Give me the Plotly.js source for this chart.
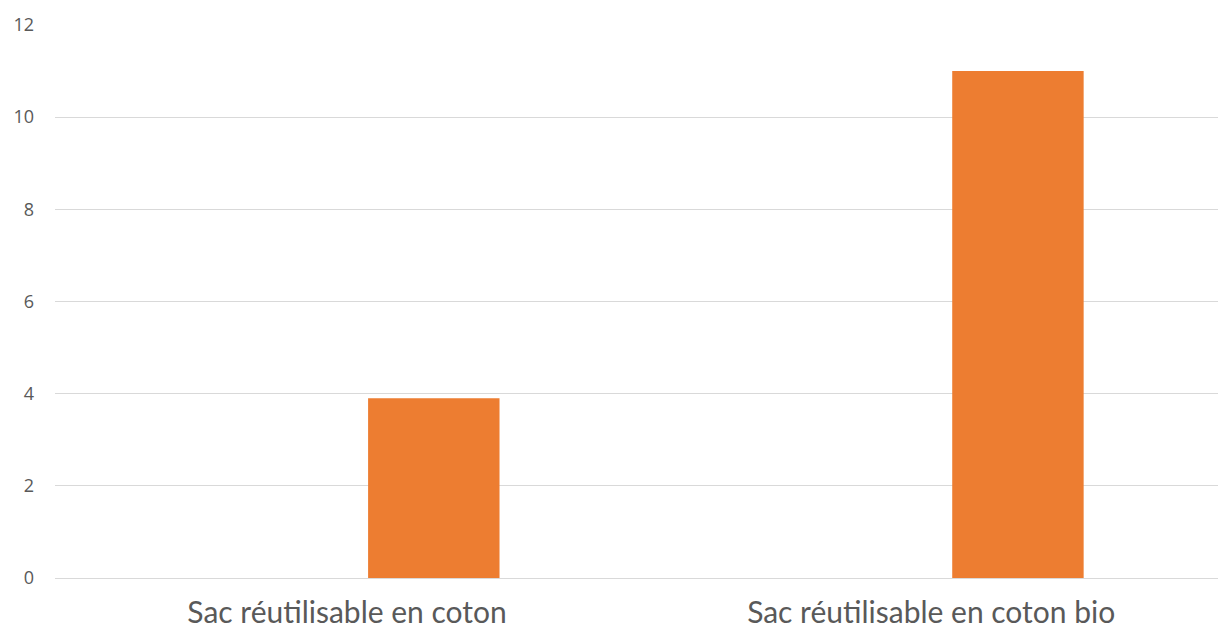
<!DOCTYPE html>
<html>
<head>
<meta charset="utf-8">
<script src="https://cdn.plot.ly/plotly-3.0.1.min.js"></script>
<style>html,body{margin:0;padding:0;background:#fff;}#chart{width:1218px;height:632px;}</style>
</head>
<body>
<div id="chart"></div>
<script>
const categories = ["Sac réutilisable en coton", "Sac réutilisable en coton bio"];
const values = [3.9, 11];
const yTicks = [0, 2, 4, 6, 8, 10, 12];

const trace = {
  type: "bar",
  x: categories,
  y: values,
  width: 0.225,
  offset: 0.036,
  marker: {color: "#ED7D31"},
  hoverinfo: "x+y"
};

const layout = {
  width: 1218,
  height: 632,
  margin: {l: 55, r: 0, t: 25, b: 54},
  paper_bgcolor: "#ffffff",
  plot_bgcolor: "#ffffff",
  showlegend: false,
  xaxis: {
    type: "category",
    range: [-0.5, 1.491],
    showgrid: false,
    showline: false,
    zeroline: false,
    ticks: "",
    tickfont: {family: "Lato, sans-serif", size: 30, color: "#595959"},
    ticklabelstandoff: 14
  },
  yaxis: {
    range: [0, 12],
    tickvals: yTicks,
    ticktext: yTicks.map(String),
    showgrid: true,
    gridcolor: "#D9D9D9",
    gridwidth: 1,
    zeroline: true,
    zerolinecolor: "#D9D9D9",
    zerolinewidth: 1,
    showline: false,
    ticks: "",
    ticklabelstandoff: 20,
    tickfont: {family: "Open Sans, sans-serif", size: 18, color: "#595959"}
  }
};

Plotly.newPlot("chart", [trace], layout, {displayModeBar: false, staticPlot: true});
</script>
</body>
</html>
